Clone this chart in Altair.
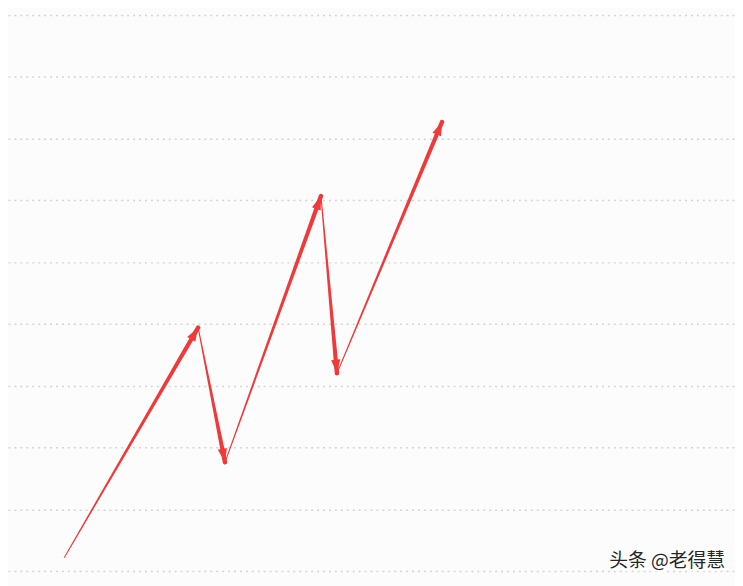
import altair as alt
import math
import pandas as pd

# turning points of the zigzag (x in steps, y in grid units)
x_pts = [7.75, 26.15, 29.85, 43.05, 45.25, 59.7]
y_pts = [0.22, 3.94, 1.76, 6.07, 3.2, 7.27]
grid_values = [0, 1, 2, 3, 4, 5, 6, 7, 8, 9]

W, H = 735, 578
x_dom = [0, 100]
y_dom = [-0.192, 9.065]
red = "#ee3a3a"

# shaft: each segment a trail, thin at its start and thick at its end
rows = []
heads = []
px_x = W / (x_dom[1] - x_dom[0])
px_y = H / (y_dom[1] - y_dom[0])
for i in range(len(x_pts) - 1):
    rows.append({"seg": i, "o": 0, "x": x_pts[i], "y": y_pts[i], "w": 1.0})
    rows.append({"seg": i, "o": 1, "x": x_pts[i + 1], "y": y_pts[i + 1], "w": 4.5})
    dx = (x_pts[i + 1] - x_pts[i]) * px_x
    dy = (y_pts[i + 1] - y_pts[i]) * px_y
    ang = math.degrees(math.atan2(dx, dy)) % 360
    heads.append({"x": x_pts[i + 1], "y": y_pts[i + 1], "ang": ang})

shaft_df = pd.DataFrame(rows)
head_df = pd.DataFrame(heads)

xs = alt.Scale(domain=x_dom, nice=False, zero=False)
ys = alt.Scale(domain=y_dom, nice=False, zero=False)

shaft = alt.Chart(shaft_df).mark_trail(color=red).encode(
    x=alt.X("x:Q", scale=xs, axis=None),
    y=alt.Y("y:Q", scale=ys, axis=alt.Axis(values=grid_values, labels=False, ticks=False,
                                              domain=False, title=None, grid=True,
                                              gridDash=[2, 4], gridColor="#d4d4d4", gridWidth=1.5)),
    detail="seg:N",
    order="o:Q",
    size=alt.Size("w:Q", scale=None, legend=None),
)

# arrow heads: triangle with its tip at the symbol origin
head = alt.Chart(head_df).mark_point(
    shape="M0,0 L-0.34,1 L0.34,1 Z", filled=True, opacity=1, color=red, size=760
).encode(
    x=alt.X("x:Q", scale=xs),
    y=alt.Y("y:Q", scale=ys),
    angle=alt.Angle("ang:Q", scale=None),
)

label_df = pd.DataFrame({"t": ["头条 @老得慧"]})
mark_shadow = alt.Chart(label_df).mark_text(
    font="Noto Sans CJK SC", fontSize=19, color="#ffffff", align="right", baseline="middle",
    stroke="#ffffff", strokeWidth=3
).encode(text="t:N", x=alt.value(726), y=alt.value(557))
mark = alt.Chart(label_df).mark_text(
    font="Noto Sans CJK SC", fontSize=19, color="#262626", align="right", baseline="middle"
).encode(text="t:N", x=alt.value(725), y=alt.value(556))

chart = alt.layer(shaft, head, mark_shadow, mark).properties(
    width=W, height=H, padding=0, background="#fcfcfc",
    autosize=alt.AutoSizeParams(type="none"),
).configure_view(stroke=None)

chart.save("out.html", embed_options={"renderer": "svg", "actions": False})
